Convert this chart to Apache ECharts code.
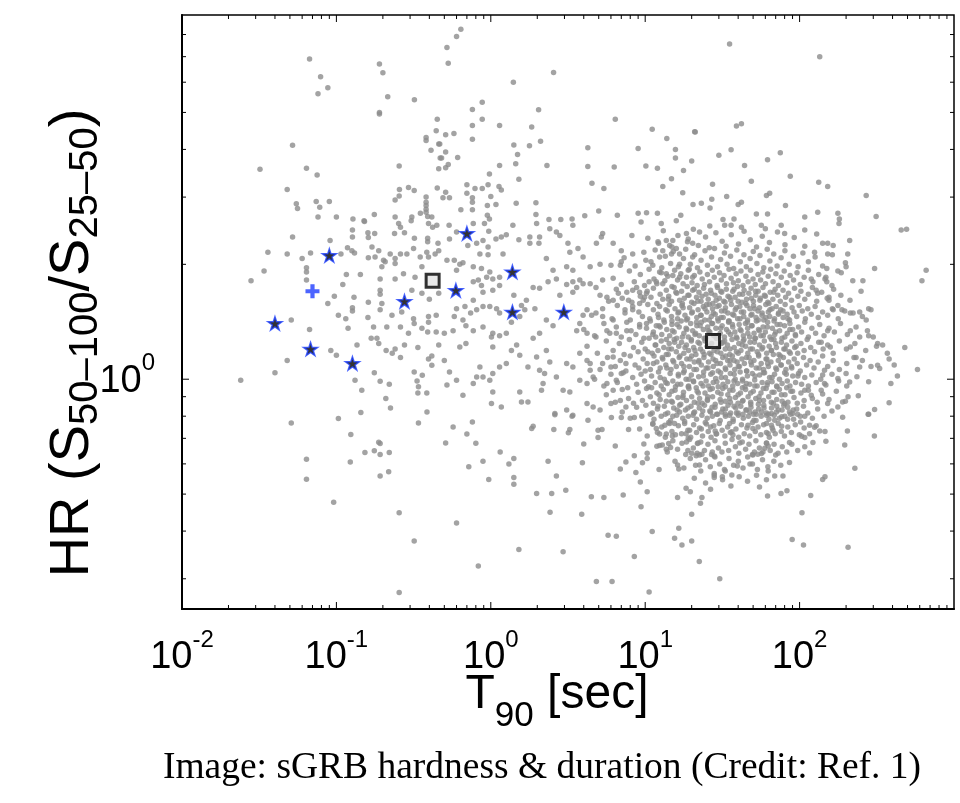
<!DOCTYPE html>
<html>
<head>
<meta charset="utf-8">
<script src="https://cdn.jsdelivr.net/npm/echarts@6/dist/echarts.min.js"></script>
<style>
html,body{margin:0;padding:0;background:#fff;}
#chart{width:960px;height:803px;}
</style>
</head>
<body>
<div id="chart"></div>
<script>
// ---- Data (T90 [s], HR) ----
const burstsShortSide = [
[0.067,6.9],[0.079,6.2],[0.076,5.6],[0.088,5.8],[0.19,6.7],[0.2,6.35],[0.215,5.5],[0.19,5.0],[0.19,4.95],[0.32,5.4],
[0.052,4.1],[0.032,3.55],[0.064,3.57],[0.075,3.43],[0.048,3.14],[0.055,2.88],[0.056,2.8],[0.074,2.92],[0.078,2.82],[0.09,2.92],
[0.076,2.66],[0.1,2.66],[0.128,2.63],[0.151,2.6],[0.176,2.7],[0.255,3.62],[0.256,3.14],[0.255,3.02],[0.24,2.95],[0.293,3.18],
[0.319,3.12],[0.24,2.66],[0.308,2.66],[0.35,2.72],[0.381,3.0],[0.381,2.91],[0.381,2.85],[0.381,2.79],[0.381,2.74],[0.39,2.67],
[0.415,2.66],[0.381,4.3],[0.381,4.22],[0.45,4.8],[0.443,4.48],[0.46,4.13],[0.41,3.98],[0.47,3.8],[0.46,3.56],[0.45,3.17],
[0.052,2.36],[0.091,2.31],[0.127,2.46],[0.127,2.36],[0.152,2.59],[0.16,2.42],[0.177,2.41],[0.161,2.35],[0.253,2.56],[0.26,2.5],
[0.238,2.41],[0.276,2.42],[0.305,2.6],[0.32,2.34],[0.395,2.56],[0.39,2.34],[0.42,2.5],[0.447,2.53],[0.39,2.29],[0.036,2.15],
[0.048,2.13],[0.06,2.07],[0.068,2.14],[0.107,2.13],[0.118,2.21],[0.126,2.17],[0.131,2.14],[0.161,2.08],[0.17,2.22],[0.178,2.09],
[0.188,2.17],[0.202,2.05],[0.223,2.13],[0.24,2.07],[0.26,2.13],[0.286,2.13],[0.316,2.2],[0.349,2.09],[0.385,2.15],[0.395,2.09],
[0.436,2.13],[0.46,2.17],[0.455,2.27],[0.034,1.92],[0.028,1.81],[0.064,1.96],[0.064,1.91],[0.064,1.82],[0.116,1.88],[0.143,1.88],
[0.11,1.77],[0.197,1.97],[0.207,2.03],[0.192,1.83],[0.24,2.01],[0.24,1.83],[0.272,1.89],[0.323,1.85],[0.358,1.97],[0.308,1.71],
[0.358,1.68],[0.4,1.62],[0.46,1.68],[0.192,1.71],[0.192,1.67],[0.088,1.58],[0.097,1.65],[0.13,1.64],[0.127,1.54],[0.127,1.51],
[0.161,1.59],[0.197,1.58],[0.192,1.52],[0.229,1.47],[0.265,1.5],[0.316,1.44],[0.319,1.4],[0.395,1.46],[0.395,1.41],[0.443,1.47],
[0.103,1.47],[0.115,1.44],[0.16,1.45],[0.051,1.43],[0.067,1.35],[0.119,1.36],[0.174,1.37],[0.212,1.37],[0.26,1.37],[0.293,1.32],
[0.358,1.36],[0.39,1.33],[0.443,1.33],[0.168,1.28],[0.183,1.28],[0.188,1.24],[0.24,1.2],[0.21,1.19],[0.23,1.17],[0.26,1.14],
[0.276,1.23],[0.337,1.21],[0.415,1.15],[0.395,1.13],[0.46,1.23],[0.092,1.19],[0.1,1.155],[0.136,1.23],[0.048,1.12],[0.04,1.04],
[0.024,0.994],[0.132,0.994],[0.146,0.936],[0.176,1.04],[0.192,0.988],[0.22,0.97],[0.319,1.045],[0.36,1.024],[0.333,0.99],[0.34,0.955],
[0.337,0.92],[0.385,0.92],[0.415,1.088],[0.209,0.89],[0.224,0.841],[0.144,0.818],[0.386,0.82],[0.103,0.789],[0.051,0.768],[0.124,0.716],
[0.064,0.617],[0.064,0.547],[0.123,0.607],[0.153,0.643],[0.176,0.649],[0.188,0.684],[0.192,0.678],[0.192,0.635],[0.22,0.643],[0.192,0.558],
[0.218,0.572],[0.096,0.476],[0.255,0.447],[0.319,0.377],[0.255,0.276],[0.34,0.768]
];
const burstsMiddle = [
[0.64,8.26],[0.6,7.9],[0.52,7.4],[0.53,6.73],[1.4,6.0],[2.55,6.36],[0.88,5.32],[0.76,5.09],[2.04,5.08],[0.88,4.8],
[0.76,4.62],[1.14,4.62],[1.84,4.58],[6.4,4.8],[11.1,4.52],[0.51,4.37],[0.577,4.4],[0.76,4.25],[1.41,4.11],[2.1,4.2],
[1.78,4.09],[13.8,4.27],[20.9,4.45],[0.467,4.13],[0.51,3.94],[0.48,3.8],[0.61,3.81],[0.53,3.65],[0.51,3.58],[1.49,3.88],
[1.45,3.67],[1.14,3.63],[2.31,3.63],[4.25,4.04],[4.25,3.61],[6.3,3.6],[9.0,4.02],[10.1,3.62],[12,3.57],[15.7,4.0],
[15.7,3.8],[17.7,3.52],[20,3.73],[0.98,3.45],[1.52,3.34],[0.7,3.23],[0.7,3.07],[0.79,3.16],[0.88,3.16],[0.96,3.23],
[1.13,3.2],[1.17,3.13],[1.0,3.01],[0.76,2.99],[0.76,2.91],[0.95,2.85],[1.08,2.87],[0.51,3.09],[0.49,2.99],[0.54,2.99],
[0.64,2.78],[0.76,2.78],[0.95,2.69],[0.98,2.63],[1.46,2.89],[1.96,2.9],[1.96,2.7],[4.52,3.26],[5.4,3.16],[13,3.2],
[14.8,3.35],[17.5,3.08],[20.4,2.87],[2.38,2.62],[2.84,2.62],[3.36,2.63],[4.06,2.68],[5.0,2.76],[6.6,2.69],[9.0,2.72],
[10.2,2.73],[12,2.72],[17,2.69],
[0.537,2.53],[0.6,2.43],[0.77,2.56],[0.91,2.56],[0.97,2.44],[1.39,2.53],[1.26,2.39],[1.17,2.36],[1.08,2.33],[0.89,2.31],
[0.81,2.27],[0.71,2.24],[0.96,2.22],[0.85,2.13],[0.96,2.12],[1.2,2.13],[0.54,2.33],[0.52,2.05],[0.58,2.05],[0.63,2.0],
[0.6,1.93],[0.66,2.02],[0.77,1.97],[0.87,1.95],[0.985,1.91],[0.94,1.85],[1.03,1.83],[1.14,1.85],[0.77,1.8],[0.83,1.82],
[0.87,1.76],[1.14,1.76],[0.89,1.69],[0.77,1.61],[1.03,1.71],[1.41,1.66],[0.89,1.55],[0.985,1.55],[1.09,1.53],[0.68,1.55],
[0.6,1.53],[0.58,1.46],[0.74,1.49],[0.81,1.52],[1.14,1.49],[0.66,1.43],[0.69,1.38],[0.57,1.34],[0.5,1.32],[0.77,1.34],
[0.89,1.37],[1.01,1.29],[1.03,1.32],[1.14,1.3],[1.26,1.32],[1.36,1.41],[1.58,1.56],[1.66,1.52],[1.54,1.46],[1.93,1.53],
[1.7,1.61],[1.88,1.74],[2.07,1.73],[1.79,2.27],[2.07,2.36],[2.05,2.27],[1.79,2.36],[1.52,2.32],[2.29,2.07],[2.53,1.93],
[2.35,1.8],[2.66,1.83],[2.8,1.66],[2.41,2.48],[2.66,2.43],[2.8,2.38],[1.98,2.56],[3.16,2.27],[3.25,2.15],[3.67,2.2],
[3.96,2.09],[3.4,2.53],[4.83,2.27],[5.3,2.41],[5.2,2.36],[6.2,2.27],[7.0,2.17],[7.0,2.03],[8.3,2.13],[8.2,2.38],
[9.4,2.58],[10.1,2.05],[11.2,1.99],[12.4,2.09],[12.7,2.56],[12.1,2.29],[13.7,2.31],[15.1,2.31],[14.4,2.24],[15.9,2.2],
[16.7,2.13],[14.8,2.13],[13,2.17],[18.5,2.41],[19,2.33],[15.9,2.6],[20.3,2.27],[20.3,2.09],[16.7,2.0],[19,1.93],
[20.3,1.85],[12.4,1.91],[13.7,1.89],[15.1,1.87],[16.7,1.85],[10.6,1.8],[11.8,1.8],[13,1.78],[8.3,1.71],[9.2,1.69],
[10.2,1.68],[7.8,1.61],[7.4,1.52],[8.3,1.52],[9.2,1.58],[9.9,1.64],[5.65,1.64],[6.2,1.61],[6.7,1.68],[5.3,1.82],
[4.8,1.74],[4.4,1.78],[3.77,1.82],[3.96,1.78],[3.4,1.8],[3.1,1.77],[3.4,1.69],[3.6,1.74],[3.1,1.97],[3.4,1.93],
[4.4,1.97],[5.1,2.0],[6.0,1.99],[6.9,1.99],[4.2,1.52],[3.96,1.47],[4.8,1.49],[5.3,1.46],[6.2,1.43],[3.77,1.4],
[3.6,1.34],[4.2,1.32],[4.8,1.29],[5.65,1.34],[6.5,1.32],[7.6,1.34],[9.2,1.37],[10.2,1.4],[11.8,1.38],[2.29,1.43],
[2.53,1.38],[2.07,1.32],[1.88,1.28],[1.47,1.23],[1.36,1.19],[1.54,1.155],[1.26,1.1],[1.14,1.077],[1.03,1.035],[0.85,1.077],
[0.89,1.014],[0.985,0.994],[0.5,1.12],[0.54,1.045],[0.52,0.965],[0.6,0.994],[0.66,0.908],[0.77,0.975],[0.81,1.014],[1.03,0.926],
[1.17,0.846],[1.01,0.864],[0.63,1.215],[0.69,1.24],[1.03,1.215],[1.98,1.144],[2.29,1.19],[2.41,1.11],[1.74,1.077],[2.07,1.056],
[2.23,1.035],[2.66,1.014],[1.54,0.926],[1.58,0.872],[1.74,0.872],[2.18,0.975],[2.13,0.936],[3.1,1.1],[3.4,1.077],[3.77,1.17],
[4.2,1.12],[4.4,1.056],[2.94,0.936],[3.25,0.926],[3.77,0.994],[4.2,0.975],[4.6,1.014],[2.6,0.813],[3.1,0.83],[3.4,0.805],
[4.2,0.864],[4.6,0.846],[5.1,0.83],[5.3,1.1],[6.0,1.077],[6.2,1.144],[5.65,0.975],[6.2,0.936],[6.5,0.994],[7.0,1.035],
[7.5,1.1],[6.0,0.864],[6.9,0.88],[7.5,0.846],
[0.51,0.681],[0.57,0.75],[0.7,0.718],[0.76,0.773],[0.8,0.68],[1.15,0.645],[0.89,0.61],[0.72,0.59],[1.31,0.6],[1.41,0.62],
[0.97,0.546],[1.41,0.553],[1.41,0.531],[0.6,0.42],[0.83,0.324],[1.52,0.358],[1.88,0.753],[1.84,0.743],[2.6,0.807],[2.56,0.738],
[3.25,0.738],[3.18,0.724],[3.36,0.8],[2.35,0.61],[2.66,0.558],[1.98,0.502],[2.48,0.502],[3.06,0.512],[2.42,0.448],[3.88,0.443],
[2.94,0.353],[4.0,0.676],[3.92,0.604],[4.26,0.781],[4.95,0.735],[5.25,0.738],[4.95,0.704],[6.04,0.794],[6.4,0.668],[7.0,0.794],
[7.8,0.738],[8.5,0.794],[7.5,0.607],[6.9,0.582],[8.5,0.63],[8.7,0.57],[9.3,0.538],[10.3,0.507],[9.4,0.463],[4.48,0.492],
[5.4,0.49],[7.2,0.497],[5.75,0.39],[6.5,0.388],[8.5,0.343],[4.83,0.295],[6.1,0.295],[10.6,0.277],[11.1,0.399],[9.8,0.676],
[10.3,0.64],[10.3,0.62],[9.6,0.604]
];
const burstsLongSide = [
[35.2,7.55],[135,7.0],[21.1,4.44],[39,4.61],[42,4.67],[30,3.86],[36,3.99],[44,3.63],[62,3.76],[75,3.92],
[87,3.4],[48.7,3.3],[27.3,3.24],[133,3.28],[152,3.2],[270,3.03],[27,2.96],[33.7,3.01],[26.3,2.81],[23.1,2.89],
[40,2.87],[42,2.91],[61,3.03],[64,3.07],[81,2.85],[52.5,2.71],[62,2.71],[37.6,2.63],[31.9,2.62],[108,2.66],
[131,2.74],[177,2.72],[181,2.63],[313,2.67],[493,2.47],[660,1.93],[620,1.81],[455,2.46],[306,1.95],[257,1.81],
[22.5,2.43],[26.2,2.52],[32.7,2.53],[36,2.53],[42,2.5],[56.5,2.53],[60,2.48],[76,2.53],[80,2.41],[108,2.46],
[180,2.56],[141,2.27],[152,2.27],[165,2.24],[211,2.31],[205,2.13],[125,2.15],[152,2.13],[177,1.92],[200,1.97],
[150,1.95],[148,1.85],[150,1.8],[119,1.83],[128,1.71],[131,1.68],[155,1.64],[155,1.61],[165,1.52],[177,1.56],
[188,1.52],[213,1.49],[245,1.5],[280,1.53],[270,1.43],[213,1.34],[245,1.29],[280,1.3],[320,1.24],[345,1.23],
[480,1.21],[370,1.17],[380,1.13],[410,1.09],[430,1.02],[580,1.06],[390,0.975],[380,0.867],[306,0.833],[280,0.81],
[206,0.899],[190,0.872],[177,0.846],[211,0.984],[200,1.035],[177,1.004],[245,1.077],[255,1.12],[225,1.14],[213,1.215],
[320,1.088],[330,1.066],[152,1.34],[158,1.215],[138,1.25],[145,1.055],[141,1.025],[145,0.975],[138,0.936],[152,0.864],
[119,0.908],[108,0.936],[80,0.864],[91,0.83],
[11.1,0.816],[11.2,0.762],[11.8,0.743],[12.4,0.718],[13.4,0.758],[14.4,0.766],[15.5,0.766],[13.7,0.718],[15,0.71],[11.9,0.667],
[12.9,0.672],[14.2,0.679],[14.6,0.662],[13.7,0.655],[15.1,0.8],[16.7,0.821],[18,0.766],[18.4,0.72],[19,0.7],[18.5,0.685],
[19.4,0.735],[20,0.64],[18.9,0.65],[16.2,0.596],[16.5,0.582],[12.3,0.58],[18.4,0.518],[19.6,0.507],[16.2,0.49],[20,0.443],
[16.5,0.407],[15.5,0.383],[17.3,0.368],[20,0.377],[22.4,0.333],[21.4,0.63],[21.8,0.679],[20.9,0.821],
[26.5,0.82],[31.3,0.82],[33,0.81],[35.2,0.805],[39,0.816],[43,0.81],[47.5,0.82],[52.4,0.81],[56.6,0.82],[61,0.805],
[65.7,0.813],[70.8,0.82],[76.6,0.797],[83.6,0.785],[90,0.813],[97,0.81],[108,0.8],[24.9,0.763],[26.5,0.75],[28.4,0.732],
[23.1,0.74],[28.8,0.718],[35.2,0.766],[36.4,0.728],[37,0.714],[46.3,0.758],[49.8,0.743],[50.6,0.781],[61,0.766],[65.7,0.758],
[69,0.781],[67.3,0.735],[62.6,0.72],[76.6,0.753],[101.5,0.773],[103,0.709],[108,0.703],[116,0.758],[125,0.748],[135,0.732],
[22,0.681],[22.5,0.633],[23.3,0.636],[22.5,0.596],[27.2,0.645],[28,0.629],[41,0.681],[61,0.681],[62.6,0.668],[59.5,0.659],
[51,0.645],[53.6,0.636],[56.6,0.639],[49.8,0.633],[70,0.633],[86,0.683],[122,0.683],[116,0.641],[148,0.688],[196,0.672],
[204,0.732],[278,0.81],[305,0.71],[39.5,0.592],[47.7,0.6],[62.6,0.575],[69,0.558],[78,0.558],[28,0.566],[28,0.553],
[31.6,0.555],[33,0.575],[36.4,0.561],[26.5,0.515],[23.3,0.49],[22.8,0.473],[55,0.522],[62,0.494],[75.8,0.502],[82.8,0.51],
[118,0.496],[141,0.546],[146,0.555],[228,0.584],[103.6,0.447],[89.5,0.38],[106,0.368],[206,0.363],[30.4,0.3]
];
const burstsLongBands = [
[10.4,2.34],[12.2,2.27],[13.1,2.45],[14.9,2.22],[16.3,2.38],[18.8,2.29],[20.5,2.47],[22.1,2.24],[24.6,2.36],[26.0,2.21],[28.7,2.42],[31.5,2.3],[33.4,2.23],[36.1,2.39],[40.2,2.26],[43.7,2.44],[47.9,2.32],[52.6,2.22],[57.3,2.37],[63.8,2.28],[71.9,2.43],[80.4,2.25],[92.3,2.35],[108,2.23],[129,2.4],
[7.3,2.08],[8.6,1.98],[9.8,2.15],[10.9,2.03],[11.6,2.18],[12.8,1.96],[13.5,2.1],[14.6,2.01],[15.2,2.16],[16.4,1.97],[17.7,2.07],[18.3,2.19],[19.6,2.0],[20.9,2.12],[21.8,1.96],[23.0,2.05],[24.4,2.17],[25.3,1.99],[26.9,2.09],[28.1,2.2],[29.4,1.97],[30.8,2.06],[32.6,2.14],[33.9,2.0],[35.7,2.1],[37.4,1.95],[39.2,2.18],[41.3,2.03],[43.6,2.12],[45.2,1.97],[47.8,2.07],[50.1,2.16],[52.9,2.01],[55.4,2.11],[58.6,1.96],[61.7,2.19],[64.2,2.04],[68.0,2.13],[71.5,1.98],[75.9,2.08],[80.3,2.17],[85.6,2.0],[91.2,2.1],[97.8,1.97],[105,2.14],[114,2.03],[126,2.09],[141,1.98],[163,2.12],[198,2.02],
[6.2,1.84],[7.0,1.77],[7.9,1.92],[8.5,1.8],[9.3,1.88],[9.9,1.76],[10.6,1.94],[11.4,1.83],[11.9,1.78],[12.7,1.9],[13.4,1.81],[14.0,1.86],[14.9,1.75],[15.5,1.93],[16.2,1.82],[17.0,1.89],[17.6,1.78],[18.5,1.85],[19.3,1.94],[20.1,1.79],[20.8,1.87],[21.7,1.76],[22.6,1.91],[23.4,1.83],[24.2,1.77],[25.3,1.88],[26.1,1.8],[27.2,1.93],[28.0,1.85],[29.2,1.76],[30.3,1.9],[31.1,1.82],[32.4,1.87],[33.6,1.78],[34.9,1.94],[36.0,1.84],[37.3,1.79],[38.8,1.89],[40.1,1.81],[41.7,1.92],[43.0,1.76],[44.9,1.86],[46.4,1.8],[48.1,1.93],[49.9,1.83],[51.6,1.77],[53.8,1.88],[55.9,1.82],[57.8,1.91],[60.1,1.78],[62.6,1.86],[65.0,1.94],[67.3,1.8],[70.2,1.89],[73.0,1.76],[76.1,1.85],[79.5,1.92],[82.7,1.79],[86.9,1.87],[91.4,1.82],[96.2,1.9],[101,1.77],[107,1.85],[114,1.93],[122,1.8],[133,1.88],[146,1.83],[162,1.76],[186,1.9],[221,1.81],
[5.1,1.66],[5.8,1.6],[6.5,1.72],[7.1,1.63],[7.6,1.69],[8.2,1.59],[8.8,1.74],[9.3,1.65],[9.7,1.61],[10.3,1.7],[10.9,1.64],[11.3,1.73],[11.9,1.58],[12.5,1.67],[13.0,1.62],[13.7,1.71],[14.2,1.65],[14.8,1.6],[15.4,1.74],[16.0,1.68],[16.7,1.61],[17.2,1.7],[17.9,1.63],[18.7,1.75],[19.2,1.66],[20.0,1.59],[20.8,1.72],[21.5,1.64],[22.3,1.69],[23.0,1.6],[23.9,1.73],[24.8,1.67],[25.6,1.62],[26.5,1.71],[27.4,1.58],[28.3,1.66],[29.4,1.74],[30.2,1.63],[31.3,1.69],[32.3,1.6],[33.5,1.72],[34.4,1.65],[35.8,1.61],[36.9,1.7],[38.2,1.64],[39.6,1.75],[40.8,1.67],[42.3,1.59],[43.7,1.71],[45.3,1.62],[46.9,1.68],[48.5,1.73],[50.2,1.6],[52.0,1.66],[53.9,1.7],[55.7,1.63],[57.9,1.74],[60.0,1.65],[62.2,1.59],[64.5,1.69],[67.1,1.62],[69.4,1.72],[72.2,1.66],[75.0,1.6],[78.1,1.71],[81.2,1.64],[84.8,1.68],[88.6,1.61],[92.7,1.73],[97.4,1.65],[102,1.7],[108,1.62],[114,1.67],[121,1.74],[129,1.6],[139,1.69],[151,1.63],[166,1.72],[185,1.66],[212,1.61],[250,1.7],
[4.5,1.47],[5.3,1.53],[6.1,1.44],[6.6,1.56],[7.4,1.49],[8.0,1.43],[8.3,1.55],[9.1,1.5],[9.6,1.46],[10.4,1.57],[10.7,1.44],[11.3,1.52],[12.1,1.48],[12.4,1.55],[13.2,1.43],[13.9,1.51],[14.3,1.57],[14.8,1.46],[15.6,1.53],[16.2,1.44],[16.5,1.5],[17.3,1.56],[18.1,1.47],[18.5,1.43],[19.4,1.54],[20.0,1.49],[20.7,1.58],[21.6,1.45],[22.0,1.52],[22.9,1.47],[23.8,1.55],[24.3,1.43],[25.1,1.5],[26.0,1.57],[26.8,1.46],[27.3,1.53],[28.4,1.48],[29.5,1.44],[30.1,1.56],[31.2,1.51],[32.0,1.45],[33.1,1.54],[34.3,1.49],[35.0,1.42],[36.2,1.57],[37.5,1.47],[38.3,1.52],[39.7,1.44],[41.0,1.55],[41.9,1.5],[43.5,1.46],[44.8,1.58],[46.0,1.43],[47.7,1.53],[49.1,1.48],[50.3,1.56],[52.2,1.45],[53.8,1.51],[55.0,1.54],[57.1,1.47],[58.6,1.43],[60.4,1.57],[62.7,1.5],[64.0,1.46],[66.3,1.53],[68.8,1.44],[70.5,1.55],[73.1,1.49],[75.4,1.52],[78.2,1.45],[80.6,1.57],[83.0,1.48],[86.1,1.43],[89.4,1.54],[92.0,1.5],[95.8,1.46],[99.5,1.56],[104,1.51],[109,1.44],[113,1.53],[119,1.48],[126,1.55],[132,1.45],[141,1.5],[152,1.47],[163,1.53],[178,1.44],[196,1.51],[222,1.49],[255,1.46],[290,1.52],
[4.0,1.35],[4.7,1.3],[5.4,1.4],[5.9,1.32],[6.5,1.37],[7.0,1.29],[7.6,1.41],[8.1,1.34],[8.7,1.31],[9.2,1.39],[9.8,1.28],[10.2,1.36],[10.8,1.42],[11.3,1.33],[11.7,1.29],[12.3,1.38],[12.8,1.31],[13.3,1.41],[13.8,1.35],[14.4,1.3],[14.9,1.39],[15.4,1.33],[16.0,1.28],[16.6,1.37],[17.1,1.42],[17.8,1.32],[18.4,1.36],[19.0,1.29],[19.7,1.4],[20.3,1.34],[21.0,1.31],[21.6,1.38],[22.4,1.3],[23.1,1.41],[23.8,1.35],[24.6,1.28],[25.4,1.37],[26.2,1.33],[27.0,1.4],[27.8,1.3],[28.7,1.36],[29.7,1.42],[30.6,1.32],[31.5,1.38],[32.6,1.29],[33.6,1.35],[34.7,1.41],[35.7,1.31],[36.9,1.37],[38.1,1.33],[39.3,1.28],[40.6,1.39],[41.8,1.34],[43.2,1.3],[44.6,1.4],[46.1,1.36],[47.5,1.29],[49.2,1.38],[50.7,1.32],[52.5,1.42],[54.2,1.35],[56.1,1.3],[58.0,1.37],[60.0,1.33],[62.1,1.41],[64.3,1.29],[66.6,1.36],[69.0,1.31],[71.5,1.39],[74.2,1.34],[76.9,1.28],[79.9,1.38],[83.1,1.32],[86.5,1.4],[90.2,1.35],[94.1,1.3],[98.5,1.37],[103,1.33],[108,1.41],[114,1.29],[120,1.36],[127,1.32],[135,1.39],[144,1.3],[155,1.36],[168,1.33],[184,1.4],[204,1.31],[232,1.37],[275,1.34],[300,1.29],
[4.2,1.22],[4.9,1.17],[5.6,1.26],[6.2,1.19],[6.8,1.24],[7.3,1.16],[7.9,1.27],[8.4,1.21],[9.0,1.18],[9.5,1.25],[10.0,1.2],[10.6,1.28],[11.1,1.17],[11.6,1.23],[12.1,1.19],[12.7,1.26],[13.2,1.21],[13.7,1.16],[14.3,1.24],[14.8,1.2],[15.4,1.27],[15.9,1.18],[16.5,1.22],[17.2,1.25],[17.8,1.17],[18.5,1.23],[19.1,1.19],[19.9,1.27],[20.6,1.21],[21.3,1.16],[22.0,1.25],[22.8,1.2],[23.6,1.18],[24.4,1.26],[25.2,1.22],[26.1,1.17],[26.9,1.24],[27.9,1.19],[28.9,1.28],[29.8,1.21],[30.9,1.17],[31.9,1.25],[33.0,1.2],[34.1,1.23],[35.3,1.16],[36.5,1.27],[37.7,1.21],[39.0,1.18],[40.4,1.24],[41.7,1.19],[43.1,1.26],[44.7,1.22],[46.2,1.17],[47.8,1.25],[49.5,1.2],[51.3,1.28],[53.1,1.18],[55.0,1.23],[57.0,1.2],[59.1,1.26],[61.2,1.17],[63.5,1.22],[65.8,1.19],[68.2,1.27],[70.8,1.21],[73.4,1.16],[76.2,1.25],[79.1,1.2],[82.3,1.23],[85.6,1.18],[89.2,1.26],[93.0,1.21],[97.2,1.17],[102,1.24],[107,1.19],[112,1.27],[118,1.21],[125,1.18],[133,1.25],[142,1.2],[152,1.23],[165,1.17],[181,1.26],[201,1.2],[228,1.24],[268,1.19],[315,1.22],
[4.4,1.1],[5.1,1.06],[5.7,1.14],[6.4,1.08],[6.9,1.12],[7.5,1.05],[8.0,1.15],[8.6,1.09],[9.1,1.07],[9.7,1.13],[10.3,1.1],[10.8,1.06],[11.4,1.15],[11.9,1.11],[12.5,1.07],[13.0,1.13],[13.6,1.09],[14.1,1.16],[14.7,1.06],[15.3,1.11],[15.9,1.08],[16.6,1.14],[17.2,1.1],[17.9,1.05],[18.6,1.13],[19.3,1.08],[20.0,1.15],[20.8,1.11],[21.5,1.06],[22.3,1.12],[23.1,1.09],[24.0,1.14],[24.8,1.07],[25.7,1.11],[26.7,1.16],[27.6,1.08],[28.6,1.12],[29.7,1.05],[30.7,1.1],[31.8,1.14],[33.0,1.07],[34.2,1.12],[35.4,1.09],[36.7,1.15],[38.0,1.06],[39.4,1.11],[40.8,1.08],[42.3,1.13],[43.9,1.1],[45.4,1.05],[47.1,1.14],[48.8,1.09],[50.6,1.12],[52.4,1.07],[54.3,1.15],[56.4,1.1],[58.4,1.06],[60.6,1.13],[62.8,1.08],[65.2,1.11],[67.6,1.16],[70.1,1.07],[72.8,1.12],[75.6,1.09],[78.5,1.14],[81.6,1.06],[84.9,1.11],[88.5,1.08],[92.3,1.13],[96.5,1.1],[101,1.05],[106,1.14],[111,1.09],[117,1.12],[124,1.07],[132,1.11],[141,1.15],[152,1.08],[165,1.12],[181,1.06],[202,1.1],[232,1.14],[290,1.08],
[4.7,1.0],[5.4,0.96],[6.0,1.03],[6.6,0.98],[7.2,1.04],[7.7,0.95],[8.3,1.01],[8.8,0.97],[9.4,1.03],[9.9,0.99],[10.5,0.955],[11.0,1.02],[11.6,0.98],[12.2,1.045],[12.7,0.96],[13.3,1.0],[13.9,0.975],[14.5,1.035],[15.1,0.99],[15.7,0.955],[16.4,1.02],[17.0,0.97],[17.7,1.04],[18.4,1.0],[19.1,0.96],[19.9,1.025],[20.6,0.985],[21.4,0.95],[22.2,1.015],[23.0,0.975],[23.9,1.045],[24.8,0.99],[25.7,0.96],[26.6,1.03],[27.6,0.98],[28.6,1.005],[29.7,0.955],[30.8,1.04],[31.9,0.97],[33.1,1.01],[34.3,0.985],[35.6,1.035],[36.9,0.96],[38.3,1.0],[39.7,0.975],[41.2,1.045],[42.7,0.99],[44.3,0.955],[45.9,1.02],[47.6,0.97],[49.4,1.035],[51.2,0.995],[53.1,0.96],[55.1,1.025],[57.2,0.98],[59.3,1.04],[61.6,0.965],[63.9,1.01],[66.3,0.985],[68.8,1.03],[71.4,0.955],[74.1,1.0],[77.0,0.975],[80.0,1.04],[83.2,0.99],[86.6,0.96],[90.3,1.02],[94.2,0.98],[98.4,1.035],[103,0.97],[108,1.01],[114,0.96],[120,1.025],[128,0.98],[137,1.0],[148,0.965],[162,1.03],[179,0.99],[202,0.96],[235,1.015],[280,0.985],
[5.6,0.91],[6.4,0.87],[7.1,0.94],[7.8,0.89],[8.4,0.865],[9.0,0.925],[9.6,0.88],[10.2,0.945],[10.8,0.9],[11.3,0.865],[11.9,0.92],[12.5,0.885],[13.1,0.94],[13.7,0.875],[14.3,0.91],[15.0,0.87],[15.6,0.935],[16.3,0.895],[17.0,0.86],[17.7,0.925],[18.5,0.88],[19.2,0.945],[20.0,0.9],[20.8,0.87],[21.7,0.93],[22.5,0.89],[23.4,0.865],[24.4,0.92],[25.3,0.88],[26.3,0.94],[27.3,0.9],[28.4,0.86],[29.5,0.925],[30.6,0.885],[31.8,0.945],[33.0,0.875],[34.3,0.91],[35.6,0.87],[37.0,0.935],[38.4,0.895],[39.9,0.865],[41.4,0.92],[43.0,0.88],[44.7,0.94],[46.4,0.9],[48.2,0.87],[50.1,0.93],[52.0,0.89],[54.1,0.86],[56.2,0.92],[58.4,0.88],[60.7,0.945],[63.1,0.9],[65.6,0.87],[68.3,0.925],[71.1,0.885],[74.0,0.94],[77.1,0.875],[80.4,0.91],[84.0,0.87],[87.8,0.93],[92.0,0.895],[96.6,0.865],[102,0.92],[107,0.88],[114,0.935],[121,0.89],[130,0.87],[141,0.915],[155,0.885],[173,0.93],[198,0.875],[240,0.905],
[7.1,0.82],[8.0,0.79],[8.8,0.845],[9.5,0.8],[10.1,0.855],[10.8,0.81],[11.4,0.785],[12.0,0.835],[12.7,0.8],[13.3,0.85],[14.0,0.815],[14.6,0.78],[15.3,0.84],[16.0,0.805],[16.7,0.855],[17.5,0.79],[18.2,0.83],[19.0,0.8],[19.8,0.85],[20.6,0.815],[21.5,0.785],[22.4,0.84],[23.3,0.805],[24.2,0.855],[25.2,0.79],[26.2,0.825],[27.2,0.8],[28.3,0.845],[29.4,0.81],[30.6,0.78],[31.8,0.835],[33.1,0.8],[34.4,0.855],[35.7,0.815],[37.1,0.785],[38.6,0.84],[40.1,0.805],[41.6,0.85],[43.2,0.79],[44.9,0.83],[46.6,0.8],[48.4,0.845],[50.3,0.81],[52.2,0.78],[54.3,0.835],[56.4,0.8],[58.6,0.855],[60.9,0.815],[63.3,0.785],[65.8,0.84],[68.4,0.805],[71.1,0.85],[74.0,0.79],[77.0,0.83],[80.2,0.8],[83.7,0.845],[87.4,0.81],[91.4,0.785],[95.8,0.835],[101,0.8],[106,0.85],[113,0.815],[121,0.79],[131,0.835],[144,0.8],[162,0.825],[190,0.795],
[9.2,0.74],[10.3,0.71],[11.2,0.765],[12.0,0.725],[12.8,0.75],[13.5,0.705],[14.2,0.77],[14.9,0.73],[15.7,0.715],[16.4,0.755],[17.2,0.72],[18.0,0.775],[18.9,0.735],[19.7,0.705],[20.6,0.76],[21.5,0.725],[22.5,0.745],[23.5,0.71],[24.5,0.77],[25.6,0.73],[26.7,0.705],[27.8,0.755],[29.0,0.72],[30.2,0.765],[31.5,0.735],[32.8,0.71],[34.2,0.75],[35.6,0.725],[37.1,0.775],[38.7,0.74],[40.3,0.705],[42.0,0.76],[43.8,0.72],[45.6,0.745],[47.5,0.71],[49.5,0.77],[51.6,0.73],[53.8,0.75],[56.1,0.715],[58.5,0.76],[61.0,0.725],[63.7,0.705],[66.5,0.745],[69.5,0.72],[72.7,0.765],[76.1,0.73],[79.8,0.71],[83.9,0.75],[88.5,0.725],[93.7,0.76],[99.6,0.715],[107,0.745],[116,0.72],[128,0.755],[146,0.73],
[12.4,0.67],[13.9,0.645],[15.1,0.69],[16.2,0.655],[17.3,0.68],[18.3,0.635],[19.4,0.695],[20.5,0.66],[21.7,0.64],[22.9,0.685],[24.2,0.65],[25.5,0.675],[26.9,0.635],[28.3,0.69],[29.8,0.66],[31.4,0.645],[33.0,0.68],[34.7,0.65],[36.5,0.695],[38.4,0.665],[40.4,0.64],[42.5,0.685],[44.7,0.655],[47.0,0.675],[49.5,0.635],[52.1,0.69],[54.9,0.66],[57.9,0.645],[61.1,0.68],[64.5,0.65],[68.3,0.675],[72.5,0.64],[77.2,0.665],[82.6,0.645],[89.0,0.675],[97.2,0.65],[108,0.665],
[15.6,0.61],[17.8,0.585],[19.6,0.62],[21.2,0.595],[22.9,0.575],[24.6,0.615],[26.4,0.59],[28.3,0.625],[30.4,0.6],[32.6,0.58],[34.9,0.62],[37.4,0.595],[40.1,0.61],[43.0,0.585],[46.1,0.625],[49.5,0.6],[53.3,0.58],[57.5,0.615],[62.3,0.59],[68.1,0.61],[75.5,0.595],[86,0.605],
[20.8,0.55],[24.6,0.535],[28.0,0.56],[31.7,0.545],[35.9,0.525],[40.6,0.555],[46.0,0.54],[52.6,0.56],[61,0.545]
];
const burstsLongCenter = [
[14.1,1.62],[15.8,1.69],[17.4,1.58],[18.9,1.66],[20.3,1.71],[21.9,1.6],[23.3,1.65],[25.0,1.57],[26.8,1.68],[28.8,1.61],[30.9,1.7],[32.9,1.59],[35.2,1.64],[37.6,1.72],[40.0,1.6],[42.8,1.67],[45.6,1.56],[48.7,1.63],[51.9,1.7],[55.3,1.61],[59.2,1.66],[63.3,1.58],[67.9,1.69],
[12.2,1.45],[13.6,1.52],[14.9,1.42],[16.3,1.49],[17.6,1.54],[18.8,1.44],[20.2,1.5],[21.5,1.41],[23.0,1.47],[24.4,1.53],[26.0,1.43],[27.6,1.49],[29.2,1.55],[31.0,1.45],[32.8,1.51],[34.7,1.42],[36.8,1.48],[38.9,1.54],[41.1,1.44],[43.4,1.5],[45.9,1.41],[48.4,1.47],[51.1,1.53],[54.0,1.43],[57.2,1.49],[60.5,1.45],[64.2,1.52],[68.3,1.42],[72.9,1.48],[78.1,1.51],[84.0,1.44],
[11.2,1.31],[12.5,1.37],[13.7,1.27],[15.0,1.34],[16.1,1.39],[17.4,1.29],[18.6,1.35],[19.9,1.26],[21.2,1.32],[22.7,1.38],[24.1,1.28],[25.7,1.34],[27.3,1.4],[29.0,1.3],[30.8,1.36],[32.7,1.26],[34.6,1.33],[36.7,1.39],[38.9,1.29],[41.2,1.35],[43.6,1.27],[46.2,1.32],[48.9,1.38],[51.8,1.28],[54.9,1.34],[58.2,1.3],[61.8,1.37],[65.7,1.27],[70.0,1.33],[74.8,1.39],[80.2,1.29],[86.5,1.35],[93.8,1.31],
[10.4,1.18],[11.7,1.23],[12.9,1.14],[14.2,1.2],[15.5,1.25],[16.8,1.15],[18.1,1.21],[19.5,1.13],[21.0,1.19],[22.5,1.24],[24.1,1.16],[25.8,1.22],[27.5,1.13],[29.3,1.18],[31.2,1.24],[33.2,1.15],[35.4,1.2],[37.6,1.12],[40.0,1.17],[42.5,1.23],[45.2,1.14],[48.0,1.2],[51.0,1.25],[54.2,1.16],[57.7,1.21],[61.4,1.13],[65.5,1.19],[70.0,1.24],[75.0,1.15],[80.6,1.2],[87.0,1.17],[95.0,1.22],
[10.0,1.05],[11.3,1.1],[12.5,1.01],[13.8,1.07],[15.1,1.12],[16.4,1.03],[17.8,1.08],[19.2,1.0],[20.7,1.06],[22.2,1.11],[23.8,1.02],[25.5,1.07],[27.3,1.04],[29.2,1.1],[31.1,1.01],[33.2,1.06],[35.4,1.12],[37.7,1.03],[40.1,1.08],[42.7,1.0],[45.4,1.05],[48.3,1.11],[51.4,1.02],[54.7,1.07],[58.3,1.04],[62.1,1.1],[66.3,1.01],[70.9,1.06],[76.1,1.09],[82.0,1.03],[89.0,1.07],[97.5,1.02],
[11.0,0.95],[12.3,0.91],[13.6,0.98],[14.9,0.93],[16.2,0.97],[17.6,0.905],[19.0,0.955],[20.5,0.99],[22.1,0.92],[23.7,0.96],[25.4,0.9],[27.2,0.945],[29.1,0.985],[31.0,0.915],[33.1,0.955],[35.3,0.935],[37.6,0.99],[40.0,0.91],[42.6,0.95],[45.3,0.975],[48.2,0.92],[51.3,0.96],[54.6,0.9],[58.2,0.945],[62.1,0.98],[66.3,0.925],[71.0,0.96],[76.3,0.91],[82.5,0.95],[90.0,0.93],
[12.1,0.85],[13.5,0.81],[14.8,0.875],[16.1,0.83],[17.5,0.895],[18.9,0.84],[20.4,0.805],[22.0,0.865],[23.6,0.825],[25.3,0.885],[27.1,0.845],[29.0,0.81],[31.0,0.87],[33.1,0.835],[35.3,0.89],[37.6,0.85],[40.0,0.815],[42.6,0.875],[45.3,0.83],[48.3,0.86],[51.5,0.82],[55.0,0.88],[58.8,0.84],[63.0,0.81],[67.6,0.865],[72.9,0.83],[79.0,0.855],[86.0,0.82]
];
const sgrbStars = [[0.09,2.11],[0.040,1.40],[0.068,1.20],[0.127,1.10],[0.276,1.60],[0.70,2.41],[1.38,1.91],[0.594,1.71],[1.38,1.50],[2.97,1.50]];
const sgrbCross = [[0.070,1.70]];
const medianSquares = [[0.42,1.81],[27.5,1.26]];

// axis ranges and tick values
const xRange = [0.01, 1000];
const yRange = [0.25, 9];
const xMajorTicks = [0.01, 0.1, 1, 10, 100];
const xMinorTicks = [0.02,0.03,0.04,0.05,0.06,0.07,0.08,0.09,0.2,0.3,0.4,0.5,0.6,0.7,0.8,0.9,2,3,4,5,6,7,8,9,20,30,40,50,60,70,80,90,200,300,400,500,600,700,800,900];
const yMajorTicks = [1];
const yMinorTicks = [0.3,0.4,0.5,0.6,0.7,0.8,0.9,2,3,4,5,6,7,8];

const xTitle = '{m|T}{u|90}{m| [sec]}';
const yTitle = '{m|HR (S}{u|50\u2013100}{m|/S}{u|25\u201350}{m|)}';
const caption = 'Image: sGRB hardness & duration (Credit: Ref. 1)';

const allBursts = burstsShortSide.concat(burstsMiddle, burstsLongSide, burstsLongBands, burstsLongCenter);

const tickData = [];
xMajorTicks.forEach(v => tickData.push([v, 1, 0, 1]));
xMinorTicks.forEach(v => tickData.push([v, 1, 0, 0]));
yMajorTicks.forEach(v => tickData.push([1, v, 1, 1]));
yMinorTicks.forEach(v => tickData.push([1, v, 1, 0]));

const starPath = 'path://M50,0 L61.2,34.5 L97.6,34.5 L68.2,55.9 L79.4,90.5 L50,69.1 L20.6,90.5 L31.8,55.9 L2.4,34.5 L38.8,34.5 Z';
const plusPath = 'path://M35,0 H65 V35 H100 V65 H65 V100 H35 V65 H0 V35 H35 Z';

const sans = 'Liberation Sans, Arial, Helvetica, sans-serif';
const powRich = {
  b: {fontSize: 38, fontFamily: sans, color: '#000', lineHeight: 38, padding: [4, 0, 0, 0]},
  s: {fontSize: 24, fontFamily: sans, color: '#000', lineHeight: 24, padding: [0, 0, 32, 0]}
};
function powLabel(v) {
  const e = Math.round(Math.log10(v));
  return '{b|10}{s|' + (e < 0 ? '-' + (-e) : e) + '}';
}

const chart = echarts.init(document.getElementById('chart'), null, {renderer: 'canvas'});
chart.setOption({
  animation: false,
  backgroundColor: '#fff',
  title: {
    text: caption,
    left: 537, top: 744, textAlign: 'center',
    textStyle: {fontFamily: 'Liberation Serif, Times New Roman, serif', fontWeight: 'normal', fontSize: 37.5, color: '#000'}
  },
  graphic: [
    {
      type: 'text', x: 557, y: 695, silent: true,
      style: {
        text: xTitle, align: 'center', verticalAlign: 'middle', fill: '#000',
        rich: {
          m: {fontSize: 48, fontFamily: sans, fill: '#000', lineHeight: 48},
          u: {fontSize: 35, fontFamily: sans, fill: '#000', lineHeight: 35, padding: [42, 0, 0, 0]}
        }
      }
    },
    {
      type: 'text', x: 73, y: 343, rotation: Math.PI / 2, silent: true,
      style: {
        text: yTitle, align: 'center', verticalAlign: 'middle', fill: '#000',
        rich: {
          m: {fontSize: 56, fontFamily: sans, fill: '#000', lineHeight: 56},
          u: {fontSize: 40, fontFamily: sans, fill: '#000', lineHeight: 40, padding: [26, 0, 0, 0]}
        }
      }
    }
  ],
  grid: {left: 182, right: 6, top: 15, bottom: 194, show: true, borderColor: '#000', borderWidth: 1.5, containLabel: false},
  xAxis: {
    type: 'log', logBase: 10, min: xRange[0], max: xRange[1],
    axisLine: {show: true, lineStyle: {color: '#000', width: 2}},
    axisTick: {show: false},
    splitLine: {show: false},
    minorTick: {show: false},
    axisLabel: {margin: 28, showMinLabel: true, showMaxLabel: false, formatter: powLabel, rich: powRich}
  },
  yAxis: {
    type: 'log', logBase: 10, min: yRange[0], max: yRange[1],
    axisLine: {show: true, lineStyle: {color: '#000', width: 2}},
    axisTick: {show: false},
    splitLine: {show: false},
    minorTick: {show: false},
    axisLabel: {margin: 27, showMinLabel: false, showMaxLabel: false, formatter: powLabel, rich: powRich}
  },
  series: [
    {
      type: 'scatter', name: 'GRBs', data: allBursts, symbol: 'circle', symbolSize: 5.5,
      itemStyle: {color: '#8c8c8c'}, silent: true, large: false
    },
    {
      type: 'scatter', name: 'median', data: medianSquares, symbol: 'rect', symbolSize: 13,
      itemStyle: {color: '#e4e4e4', borderColor: '#000', borderWidth: 3}, z: 3
    },
    {
      type: 'scatter', name: 'sGRB', data: sgrbStars, symbol: starPath, symbolSize: 14, symbolKeepAspect: true,
      itemStyle: {color: '#000', borderColor: '#1e40ff', borderWidth: 1.5}, z: 4
    },
    {
      type: 'scatter', name: 'sGRB cross', data: sgrbCross, symbol: plusPath, symbolSize: 14,
      itemStyle: {color: '#1f3dff'}, z: 4
    },
    {
      type: 'custom', name: 'ticks', data: tickData, silent: true, z: 5,
      renderItem: function (params, api) {
        const cs = params.coordSys;
        const isY = api.value(2) === 1;
        const len = api.value(3) === 1 ? 7 : 4;
        const st = {stroke: '#000', lineWidth: 1};
        if (!isY) {
          const x = api.coord([api.value(0), 1])[0];
          const b = cs.y + cs.height, t = cs.y;
          return {type: 'group', children: [
            {type: 'line', shape: {x1: x, y1: b, x2: x, y2: b - len}, style: st},
            {type: 'line', shape: {x1: x, y1: t, x2: x, y2: t + len}, style: st}
          ]};
        } else {
          const y = api.coord([1, api.value(1)])[1];
          const l = cs.x, r = cs.x + cs.width;
          return {type: 'group', children: [
            {type: 'line', shape: {x1: l, y1: y, x2: l + len, y2: y}, style: st},
            {type: 'line', shape: {x1: r, y1: y, x2: r - len, y2: y}, style: st}
          ]};
        }
      }
    }
  ]
});
</script>
</body>
</html>
